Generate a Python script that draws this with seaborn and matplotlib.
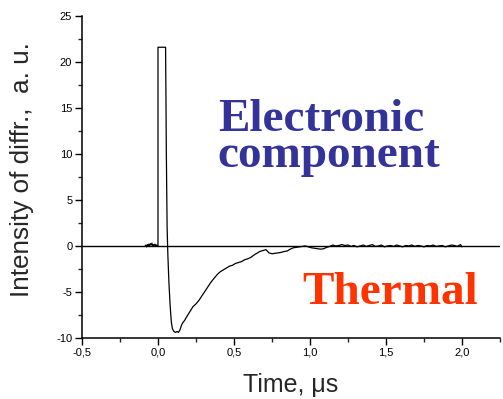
import numpy as np
import pandas as pd
import matplotlib
matplotlib.use("Agg")
import matplotlib.pyplot as plt
import seaborn as sns
from matplotlib.ticker import FixedLocator, MultipleLocator

# ---- data ----
time_us = [
    -0.085, -0.08, -0.075, -0.07, -0.065, -0.06, -0.055, -0.05, -0.045, -0.04,
    -0.035, -0.03, -0.025, -0.02, -0.015, -0.01, -0.005, 0.0,
    0.0, 0.05,
    0.055, 0.06, 0.065, 0.072, 0.08, 0.088, 0.095, 0.105, 0.115, 0.125,
    0.135, 0.145, 0.155, 0.165, 0.175, 0.185, 0.2, 0.215, 0.23, 0.25,
    0.27, 0.29, 0.31, 0.33, 0.35, 0.37, 0.39, 0.41, 0.43, 0.45,
    0.47, 0.49, 0.51, 0.53, 0.55, 0.57, 0.59, 0.61, 0.63, 0.65,
    0.67, 0.69, 0.71, 0.73, 0.75, 0.77, 0.79, 0.81, 0.83, 0.85,
    0.87, 0.89, 0.91, 0.93, 0.95, 0.97, 0.99, 1.01, 1.03, 1.05,
    1.07, 1.09, 1.11, 1.13, 1.15, 1.17, 1.19, 1.21, 1.23, 1.25,
    1.27, 1.29, 1.31, 1.33, 1.35, 1.37, 1.39, 1.41, 1.43, 1.45,
    1.47, 1.49, 1.51, 1.53, 1.55, 1.57, 1.59, 1.61, 1.63, 1.65,
    1.67, 1.69, 1.71, 1.73, 1.75, 1.77, 1.79, 1.81, 1.83, 1.85,
    1.87, 1.89, 1.91, 1.93, 1.95, 1.97, 1.99, 2.0,
]
signal = [
    0.0, 0.1, -0.1, 0.15, 0.0, 0.2, 0.05, 0.25, 0.1, 0.3,
    0.0, 0.15, 0.05, 0.2, 0.0, 0.1, 0.05, 0.0,
    21.6, 21.6,
    10.0, 2.0, -1.0, -4.0, -6.5, -8.3, -9.0, -9.3, -9.4, -9.3,
    -9.4, -9.1, -8.6, -8.3, -8.1, -7.8, -7.4, -7.0, -6.6, -6.3,
    -5.9, -5.4, -4.9, -4.4, -3.9, -3.5, -3.1, -2.8, -2.6, -2.4,
    -2.2, -2.1, -1.9, -1.8, -1.7, -1.5, -1.4, -1.25, -1.0, -0.8,
    -0.6, -0.5, -0.4, -0.75, -0.85, -0.8, -0.75, -0.7, -0.6, -0.55,
    -0.35, -0.2, -0.15, -0.1, -0.05, 0.0, -0.1, -0.2, -0.25, -0.3,
    -0.35, -0.3, -0.15, -0.05, 0.1, 0.0, 0.05, 0.15, 0.05, 0.1,
    -0.05, 0.05, -0.1, 0.0, 0.1, -0.05, 0.05, 0.15, -0.05, 0.0,
    0.1, -0.1, 0.0, 0.05, -0.05, 0.1, 0.0, -0.1, 0.05, 0.0,
    0.1, -0.05, 0.05, 0.0, -0.1, 0.05, 0.0, 0.1, -0.05, 0.0,
    0.05, -0.1, 0.0, 0.1, 0.05, -0.05, 0.15, -0.1,
]

x_ticks = [-0.5, 0.0, 0.5, 1.0, 1.5, 2.0]
x_labels = ["-0,5", "0,0", "0,5", "1,0", "1,5", "2,0"]
y_ticks = [-10, -5, 0, 5, 10, 15, 20, 25]
y_labels = ["-10", "-5", "0", "5", "10", "15", "20", "25"]

df = pd.DataFrame({"t": time_us, "s": signal})

sns.set_style("ticks")
plt.rcParams["font.family"] = ["Liberation Sans", "DejaVu Sans"]

fig = plt.figure(figsize=(5.03, 3.99), dpi=100)
ax = fig.add_axes([0.163, 0.153, 0.831, 0.807])

sns.lineplot(data=df, x="t", y="s", sort=False, estimator=None,
             color="black", linewidth=0.9, ax=ax)
ax.axhline(0, color="black", linewidth=1.0, zorder=1)

ax.set_xlim(-0.5, 2.25)
ax.set_ylim(-10, 25)
ax.xaxis.set_major_locator(FixedLocator(x_ticks))
ax.set_xticklabels(x_labels)
ax.yaxis.set_major_locator(FixedLocator(y_ticks))
ax.set_yticklabels(y_labels)
ax.xaxis.set_minor_locator(MultipleLocator(0.25))
ax.yaxis.set_minor_locator(MultipleLocator(2.5))
ax.tick_params(which="major", direction="out", length=5, width=1,
               labelsize=8, colors="black", pad=2)
ax.tick_params(which="minor", direction="out", length=3, width=1)

sns.despine(ax=ax)
for sp in ("left", "bottom"):
    ax.spines[sp].set_linewidth(1.1)
    ax.spines[sp].set_color("black")

ax.set_xlabel("Time, \u03bcs", fontsize=18, labelpad=11)
ax.set_ylabel("Intensity of diffr.,  a. u.", fontsize=18.8, labelpad=16)
ax.yaxis.label.set_y(0.522)

ax.text(0.325, 0.531, "Electronic\ncomponent", transform=ax.transAxes,
        ha="left", va="baseline", multialignment="left",
        fontsize=34, fontweight="bold", linespacing=0.8,
        family="Liberation Serif", color="#333399")
ax.text(0.736, 0.106, "Thermal", transform=ax.transAxes,
        ha="center", va="baseline", fontsize=34, fontweight="bold",
        family="Liberation Serif", color="#FF3300")

fig.savefig("out.png", dpi=100)
